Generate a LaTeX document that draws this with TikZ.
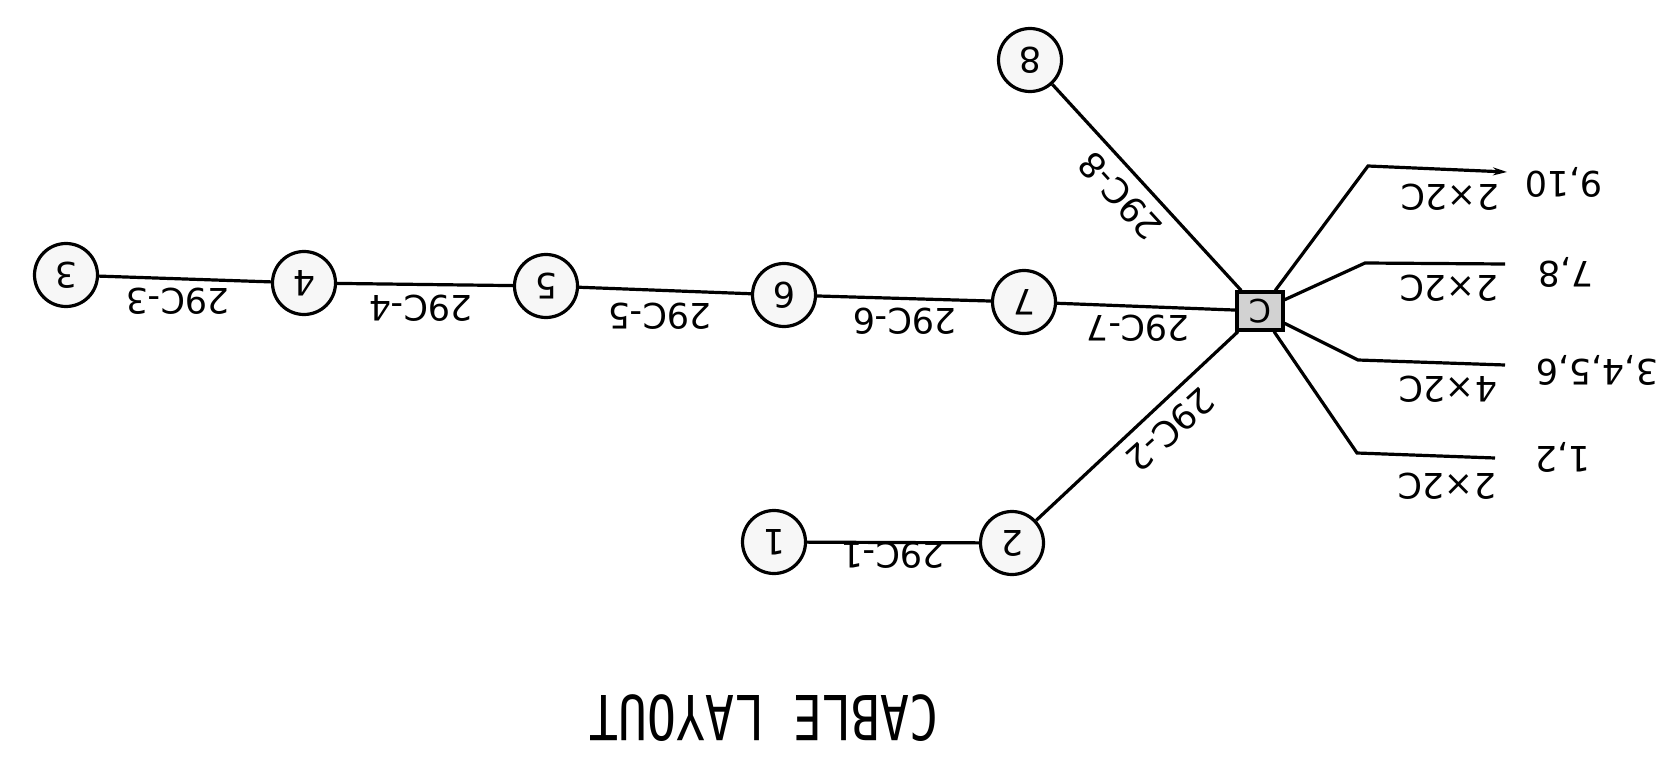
\documentclass[tikz,border=0pt]{standalone}
\usepackage{fontspec}
\usepackage{graphicx}
\usetikzlibrary{arrows.meta}
\newfontfamily\labfont{DejaVu Sans}
\newfontfamily\ttlfont{DejaVu Sans Mono}
\begin{document}
\begin{tikzpicture}[x=1pt,y=-1pt,
  stn/.style={circle,draw,line width=3.2pt,minimum size=63pt,inner sep=0pt,fill=gray!6,
    font=\labfont\fontsize{35}{40}\selectfont,rotate=180},
  jbox/.style={rectangle,draw,line width=3.2pt,fill=gray!35,minimum width=46pt,minimum height=38pt,
    inner sep=0pt,font=\labfont\fontsize{32}{36}\selectfont,rotate=180},
  cab/.style={line width=3.2pt},
  lab/.style={font=\labfont\fontsize{35}{40}\selectfont,inner sep=0pt},
]
\useasboundingbox (0,0) rectangle (1667,762);
% stations
\node[stn] (c3) at (66,275) {3};
\node[stn] (c4) at (304,283) {4};
\node[stn] (c5) at (546,286) {5};
\node[stn] (c6) at (784,295) {6};
\node[stn] (c7) at (1024,302) {7};
\node[stn] (c8) at (1030,60) {8};
\node[stn] (c1) at (774,542) {1};
\node[stn] (c2) at (1012,543) {2};
\node[jbox] (C) at (1260,311) {C};
% branch points
\coordinate (b1) at (1368,166); \coordinate (e1) at (1507,172);
\coordinate (b2) at (1365,263); \coordinate (e2) at (1505,264);
\coordinate (b3) at (1358,360); \coordinate (e3) at (1505,365);
\coordinate (b4) at (1357,453); \coordinate (e4) at (1495,458);
% cables
\draw[cab] (c3) -- (c4);
\draw[cab] (c4) -- (c5);
\draw[cab] (c5) -- (c6);
\draw[cab] (c6) -- (c7);
\draw[cab] (c7) -- (C);
\draw[cab] (c8) -- (C);
\draw[cab] (c2) -- (C);
\draw[cab] (c1) -- (c2);
\draw[cab,-{Stealth[length=14pt,width=8pt]}] (C) -- (b1) -- (e1);
\draw[cab] (C) -- (b2) -- (e2);
\draw[cab] (C) -- (b3) -- (e3);
\draw[cab] (C) -- (b4) -- (e4);
% cable labels
\node[lab,rotate=180] (l3) at (178,301) {29C-3};
\node[lab,rotate=180] (l4) at (421,308) {29C-4};
\node[lab,rotate=180] (l5) at (660,316) {29C-5};
\node[lab,rotate=180] (l6) at (905,321) {29C-6};
\node[lab,rotate=180] (l7) at (1138,328) {29C-7};
\node[lab,rotate=180] (l1) at (893,555) {29C-1};
\node[lab,rotate=222] (l2) at (1170,430) {29C-2};
\node[lab,rotate=132.5] (l8) at (1120,196) {29C-8};
% branch labels
\node[lab,rotate=180] (k1) at (1450,197) {2×2C};
\node[lab,rotate=180] (k2) at (1449,288) {2×2C};
\node[lab,rotate=180] (k3) at (1448,389) {4×2C};
\node[lab,rotate=180] (k4) at (1447,486) {2×2C};
\node[lab,rotate=180] (n1) at (1564,182) {9,10};
\node[lab,rotate=180] (n2) at (1566,272) {7,8};
\node[lab,rotate=180] (n3) at (1597,370) {3,4,5,6};
\node[lab,rotate=180] (n4) at (1563,457) {1,2};
% title
\node[rotate=180,inner sep=0pt,font=\ttlfont\fontsize{62}{70}\selectfont] (title) at (764,718) {\scalebox{0.78}[1]{CABLE LAYOUT}};
\end{tikzpicture}
\end{document}
